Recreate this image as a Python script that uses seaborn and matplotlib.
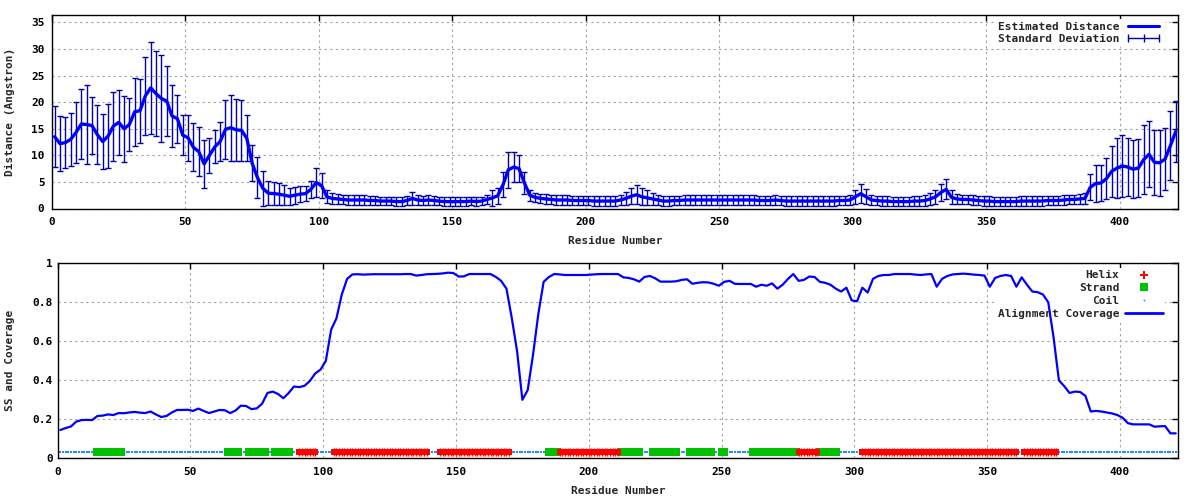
import numpy as np
import pandas as pd
import seaborn as sns
import matplotlib.pyplot as plt
from matplotlib.lines import Line2D
from matplotlib.ticker import MultipleLocator, FuncFormatter

# residues sampled every 2 positions
residue = list(range(1, 422, 2))

distance = [
    13.5, 12.2, 12.4, 13.0, 14.3, 15.9, 15.8, 15.6, 13.9, 12.6,
    13.6, 15.5, 16.2, 15.0, 15.8, 18.2, 18.4, 21.2, 22.7, 21.6,
    20.7, 20.2, 17.4, 16.9, 13.8, 13.3, 11.5, 10.7, 8.4, 10.0,
    11.6, 12.6, 14.9, 15.2, 14.8, 14.7, 13.2, 8.5, 5.8, 3.8,
    2.9, 2.8, 2.7, 2.5, 2.3, 2.5, 2.7, 2.8, 3.6, 4.9,
    4.3, 2.2, 1.9, 1.8, 1.7, 1.6, 1.6, 1.6, 1.6, 1.5,
    1.5, 1.4, 1.4, 1.4, 1.3, 1.3, 1.5, 1.9, 1.6, 1.5,
    1.6, 1.5, 1.4, 1.3, 1.3, 1.3, 1.3, 1.3, 1.4, 1.3,
    1.4, 1.7, 2.0, 2.4, 4.5, 7.3, 7.8, 7.5, 4.8, 2.5,
    2.1, 1.9, 1.8, 1.7, 1.6, 1.6, 1.6, 1.5, 1.5, 1.5,
    1.5, 1.4, 1.4, 1.4, 1.4, 1.4, 1.6, 1.9, 2.3, 2.6,
    2.2, 2.0, 1.8, 1.6, 1.4, 1.4, 1.5, 1.5, 1.6, 1.6,
    1.6, 1.6, 1.6, 1.6, 1.6, 1.6, 1.6, 1.6, 1.6, 1.6,
    1.6, 1.6, 1.5, 1.5, 1.5, 1.6, 1.5, 1.4, 1.4, 1.4,
    1.4, 1.4, 1.4, 1.4, 1.4, 1.4, 1.4, 1.5, 1.5, 1.6,
    2.2, 2.8, 2.2, 1.6, 1.5, 1.4, 1.4, 1.3, 1.3, 1.3,
    1.3, 1.4, 1.4, 1.5, 1.8, 2.2, 3.0, 3.6, 2.1, 1.8,
    1.7, 1.7, 1.6, 1.5, 1.4, 1.4, 1.3, 1.3, 1.3, 1.3,
    1.3, 1.4, 1.4, 1.4, 1.4, 1.4, 1.5, 1.5, 1.5, 1.6,
    1.7, 1.7, 1.8, 1.9, 4.0, 4.7, 4.8, 5.6, 7.0, 7.6,
    8.0, 7.8, 7.4, 7.6, 9.2, 10.2, 8.7, 8.6, 9.3, 11.8, 14.5,
]

std_dev = [
    5.7, 5.2, 4.8, 5.0, 5.8, 6.5, 7.4, 5.3, 5.6, 5.2,
    6.0, 6.5, 6.1, 6.2, 5.0, 6.4, 6.0, 7.3, 8.6, 8.0,
    8.2, 6.6, 5.8, 4.5, 3.7, 4.3, 4.5, 4.6, 4.5, 3.3,
    3.1, 3.7, 5.5, 6.2, 5.8, 5.7, 4.3, 3.4, 3.9, 3.3,
    2.3, 2.2, 2.1, 1.9, 1.6, 1.6, 1.5, 1.4, 1.6, 2.8,
    2.4, 1.2, 1.0, 0.9, 0.9, 0.9, 0.9, 0.9, 0.9, 0.9,
    0.9, 0.8, 0.8, 0.8, 0.8, 0.8, 0.9, 1.2, 0.9, 0.9,
    0.9, 0.9, 0.8, 0.8, 0.8, 0.8, 0.8, 0.8, 0.8, 0.8,
    0.8, 0.9, 1.5, 1.5, 2.3, 3.4, 2.8, 2.6, 2.0, 1.0,
    0.9, 0.9, 0.9, 0.9, 0.9, 0.9, 0.9, 0.9, 0.9, 0.9,
    0.9, 0.9, 0.9, 0.9, 0.9, 0.9, 1.0, 1.2, 1.5, 1.8,
    1.6, 1.4, 1.2, 1.0, 0.9, 0.9, 0.9, 0.9, 0.9, 0.9,
    0.9, 0.9, 0.9, 0.9, 0.9, 0.9, 0.9, 0.9, 0.9, 0.9,
    0.9, 0.9, 0.9, 0.9, 0.9, 0.9, 0.9, 0.9, 0.9, 0.9,
    0.9, 0.9, 0.9, 0.9, 0.9, 0.9, 0.9, 0.9, 0.9, 0.9,
    1.3, 1.8, 1.4, 1.0, 0.9, 0.9, 0.9, 0.9, 0.9, 0.9,
    0.9, 0.9, 0.9, 1.0, 1.1, 1.3, 1.6, 1.9, 1.3, 1.0,
    0.9, 0.9, 0.9, 0.9, 0.9, 0.9, 0.9, 0.9, 0.9, 0.9,
    0.9, 0.9, 0.9, 0.9, 0.9, 0.9, 0.9, 0.9, 0.9, 0.9,
    0.9, 0.9, 0.9, 1.0, 2.4, 3.5, 3.4, 3.9, 4.8, 5.6,
    5.8, 5.5, 5.5, 5.4, 6.5, 6.2, 6.1, 6.2, 5.8, 6.5, 5.8,
]

coverage = [
    0.145, 0.155, 0.163, 0.188, 0.196, 0.197, 0.196, 0.217, 0.219, 0.225,
    0.222, 0.232, 0.231, 0.235, 0.238, 0.234, 0.232, 0.240, 0.225, 0.212,
    0.217, 0.235, 0.248, 0.248, 0.249, 0.243, 0.255, 0.243, 0.232, 0.240,
    0.248, 0.246, 0.232, 0.245, 0.270, 0.268, 0.252, 0.256, 0.280, 0.335,
    0.342, 0.330, 0.308, 0.335, 0.368, 0.365, 0.372, 0.397, 0.435, 0.455,
    0.500, 0.660, 0.718, 0.840, 0.920, 0.943, 0.944, 0.942, 0.943, 0.944,
    0.944, 0.944, 0.944, 0.944, 0.944, 0.945, 0.945, 0.937, 0.940, 0.944,
    0.945, 0.946, 0.948, 0.952, 0.950, 0.932, 0.933, 0.945, 0.945, 0.945,
    0.945, 0.945, 0.930, 0.910, 0.870, 0.720, 0.550, 0.300, 0.350, 0.530,
    0.740, 0.905, 0.930, 0.945, 0.943, 0.940, 0.940, 0.940, 0.940, 0.940,
    0.942, 0.944, 0.945, 0.945, 0.945, 0.945, 0.928, 0.925, 0.918, 0.906,
    0.930, 0.935, 0.923, 0.906, 0.906, 0.906, 0.908, 0.915, 0.918, 0.895,
    0.900, 0.903, 0.902, 0.895, 0.885, 0.905, 0.910, 0.895, 0.894, 0.894,
    0.894, 0.880, 0.890, 0.885, 0.897, 0.870, 0.890, 0.920, 0.945, 0.910,
    0.915, 0.932, 0.930, 0.905, 0.900, 0.890, 0.870, 0.855, 0.875, 0.810,
    0.805, 0.875, 0.850, 0.920, 0.935, 0.940, 0.940, 0.945, 0.945, 0.945,
    0.945, 0.942, 0.940, 0.943, 0.945, 0.880, 0.920, 0.935, 0.943, 0.945,
    0.947, 0.945, 0.942, 0.940, 0.937, 0.880, 0.925, 0.935, 0.940, 0.935,
    0.880, 0.928, 0.890, 0.855, 0.852, 0.840, 0.800, 0.620, 0.400, 0.370,
    0.335, 0.342, 0.340, 0.320, 0.240, 0.243, 0.240, 0.235, 0.230, 0.222,
    0.208, 0.180, 0.174, 0.174, 0.174, 0.174, 0.162, 0.164, 0.165, 0.128, 0.128,
]

helix_segments = [(91, 97), (104, 139), (144, 170), (189, 211), (279, 286),
                  (303, 335), (336, 361), (364, 376)]
strand_segments = [(15, 24), (64, 68), (72, 78), (82, 87), (185, 188), (212, 219),
                   (224, 233), (238, 246), (250, 251), (262, 268), (271, 278), (287, 293)]
n_residues = 421

helix_res = [r for s, e in helix_segments for r in range(s, e + 1)]
strand_res = [r for s, e in strand_segments for r in range(s, e + 1)]
coil_res = [r for r in range(1, n_residues + 1) if r not in helix_res and r not in strand_res]

sns.set_style('white')
plt.rcParams['font.family'] = ['DejaVu Sans Mono']
plt.rcParams['font.weight'] = 'bold'
plt.rcParams['font.size'] = 8

LINE_BLUE = '#0000ff'
ERR_BLUE = '#0000a8'
LEG_FONT = {'family': 'DejaVu Sans Mono', 'weight': 'bold', 'size': 8}

fig = plt.figure(figsize=(12, 5), dpi=100)
ax1 = fig.add_axes([0.0433, 0.583, 0.9387, 0.388])
ax2 = fig.add_axes([0.048, 0.0834, 0.934, 0.39])


def style_axes(ax, ypad):
    ax.set_axisbelow(True)
    ax.grid(True, color='#a0a0a0', linestyle=(0, (2, 3)), linewidth=0.8)
    ax.tick_params(direction='in', top=True, right=True, length=4, width=1,
                   colors='black', labelsize=8)
    ax.tick_params(axis='x', pad=6)
    ax.tick_params(axis='y', pad=ypad)
    for sp in ax.spines.values():
        sp.set_color('black')
        sp.set_linewidth(1)
        sp.set_visible(True)


# top panel: estimated distance with std dev
dist_df = pd.DataFrame({'Residue': residue, 'Distance': distance, 'SD': std_dev})
ax1.errorbar(dist_df['Residue'], dist_df['Distance'], yerr=dist_df['SD'], fmt='none',
             ecolor=ERR_BLUE, elinewidth=1, capsize=2.2, capthick=1, zorder=2)
sns.lineplot(data=dist_df, x='Residue', y='Distance', ax=ax1, color=LINE_BLUE,
             lw=2.4, zorder=3, legend=False)
ax1.set_xlim(0, 422)
ax1.set_ylim(0, 36.5)
ax1.xaxis.set_major_locator(MultipleLocator(50))
ax1.yaxis.set_major_locator(MultipleLocator(5))
style_axes(ax1, 5.3)
ax1.set_xlabel('Residue Number', fontsize=8, fontweight='bold')
ax1.set_ylabel('Distance (Angstron)', fontsize=8, fontweight='bold')
ax1.xaxis.set_label_coords(0.5, -0.14)
ax1.yaxis.set_label_coords(-0.033, 0.5)

h_dist = Line2D([], [], color=LINE_BLUE, lw=2.2)
h_sd = Line2D([], [], color=ERR_BLUE, lw=1, marker='|', ms=6, mew=1)
leg1 = ax1.legend([h_dist, h_sd], ['Estimated Distance', 'Standard Deviation'],
                  loc='upper right', bbox_to_anchor=(0.988, 0.975), markerfirst=False,
                  numpoints=3, handlelength=3.4, handletextpad=0.5, labelspacing=0.25,
                  borderpad=0.2, borderaxespad=0, frameon=True, fancybox=False,
                  framealpha=1, edgecolor='none', facecolor='white', prop=LEG_FONT)
leg1.set_zorder(1)

# bottom panel: secondary structure and alignment coverage
cov_df = pd.DataFrame({'Residue': residue, 'Coverage': coverage})
ss_y = 0.03
sns.scatterplot(x=coil_res, y=[ss_y] * len(coil_res), ax=ax2, marker='s', s=2,
                color='#1e90ff', linewidth=0, zorder=2, legend=False)
sns.scatterplot(x=strand_res, y=[ss_y] * len(strand_res), ax=ax2, marker='s', s=26,
                color='#00c000', linewidth=0, zorder=3, legend=False)
sns.scatterplot(x=helix_res, y=[ss_y] * len(helix_res), ax=ax2, marker='s', s=20,
                color='#ff0000', linewidth=0, zorder=3, legend=False)
sns.scatterplot(x=helix_res, y=[ss_y] * len(helix_res), ax=ax2, marker='|', s=34,
                color='#ff0000', linewidth=1, zorder=3, legend=False)
sns.lineplot(data=cov_df, x='Residue', y='Coverage', ax=ax2, color=LINE_BLUE,
             lw=1.6, zorder=4, legend=False)
ax2.set_xlim(0, 422)
ax2.set_ylim(0, 1)
ax2.xaxis.set_major_locator(MultipleLocator(50))
ax2.yaxis.set_major_locator(MultipleLocator(0.2))
ax2.yaxis.set_major_formatter(FuncFormatter(lambda v, p: f'{v:g}'))
style_axes(ax2, 3.5)
ax2.set_xlabel('Residue Number', fontsize=8, fontweight='bold')
ax2.set_ylabel('SS and Coverage', fontsize=8, fontweight='bold')
ax2.xaxis.set_label_coords(0.5, -0.14)
ax2.yaxis.set_label_coords(-0.038, 0.5)

h_helix = Line2D([], [], color='#ff0000', marker='P', ms=6, ls='none', mew=0)
h_strand = Line2D([], [], color='#00c000', marker='s', ms=6, ls='none', mew=0)
h_coil = Line2D([], [], color='#1e90ff', marker='s', ms=1.2, ls='none', mew=0)
h_cov = Line2D([], [], color=LINE_BLUE, lw=2)
leg2 = ax2.legend([h_helix, h_strand, h_coil, h_cov],
                  ['Helix', 'Strand', 'Coil', 'Alignment Coverage'],
                  loc='upper right', bbox_to_anchor=(0.988, 0.975), markerfirst=False,
                  numpoints=1, handlelength=3.4, handletextpad=0.5, labelspacing=0.25,
                  borderpad=0.2, borderaxespad=0, frameon=True, fancybox=False,
                  framealpha=1, edgecolor='none', facecolor='white', prop=LEG_FONT)
leg2.set_zorder(1)

plt.savefig('out.png', dpi=100)
plt.close()
